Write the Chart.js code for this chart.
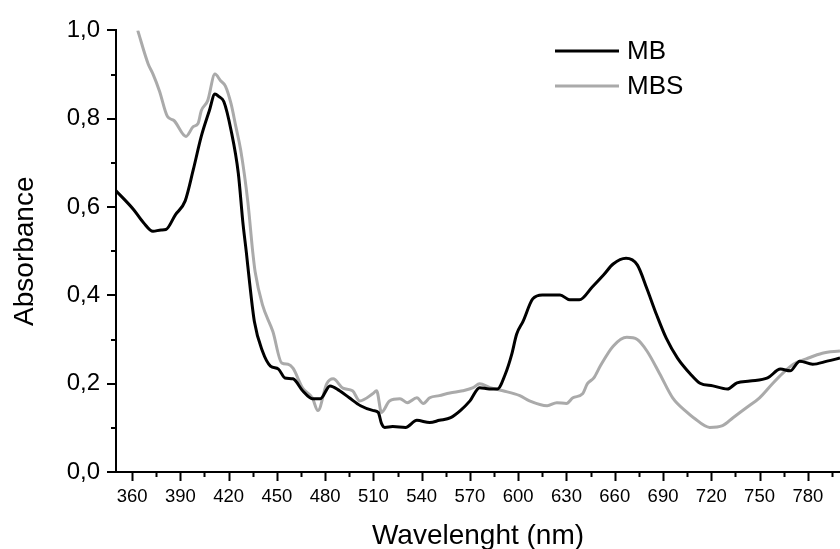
<!DOCTYPE html>
<html lang="en">
<head>
    <meta charset="UTF-8">
    <title>Absorbance spectra</title>
    <script src="https://cdn.jsdelivr.net/npm/chart.js"></script>
    <style>
        body { margin: 0; background: #fff; }
        #wrap { width: 840px; height: 549px; }
    </style>
</head>
<body>
    <div id="wrap"><canvas id="spectrum"></canvas></div>
    <script>
        // wavelength (nm) / absorbance
        const mbWavelength = [350, 361, 367, 373, 378, 381, 387, 393, 398, 403, 408, 411.5, 414, 417, 421.5, 426, 429, 431, 433, 436,
            441, 446, 451, 455, 460, 466, 472, 477, 483, 489, 495, 502, 510, 513, 515, 517, 522, 530, 537, 545,
            551, 558, 564, 570, 576, 582, 587, 592, 596, 599, 603, 609, 615, 626, 632, 638, 646, 653, 659, 667,
            674, 680, 686, 692, 699, 707, 713, 721, 730, 736, 744, 755, 763, 769, 775, 783, 792, 800];
        const mbAbsorbance = [0.637, 0.594, 0.565, 0.545, 0.548, 0.549, 0.583, 0.614, 0.684, 0.760, 0.818, 0.856, 0.850, 0.839, 0.774, 0.677, 0.560, 0.498, 0.430, 0.341,
            0.274, 0.240, 0.233, 0.213, 0.211, 0.184, 0.166, 0.166, 0.195, 0.184, 0.168, 0.150, 0.139, 0.135, 0.110, 0.101, 0.103, 0.101, 0.117, 0.112,
            0.117, 0.123, 0.139, 0.161, 0.191, 0.188, 0.188, 0.222, 0.267, 0.312, 0.341, 0.392, 0.401, 0.401, 0.390, 0.390, 0.419, 0.446, 0.471, 0.484,
            0.469, 0.415, 0.356, 0.303, 0.258, 0.222, 0.201, 0.195, 0.188, 0.202, 0.206, 0.213, 0.233, 0.229, 0.251, 0.244, 0.251, 0.258];

        const mbsWavelength = [363.5, 370, 373, 377, 382, 386, 393.5, 398, 401, 403, 407, 411.5, 415, 418, 421.5, 424.5, 427.5, 432, 435, 436.5,
            441, 447.5, 453, 457, 460, 466, 472, 475.5, 481, 485, 491, 497, 501.5, 509.5, 512, 515, 520, 526.5, 531, 537,
            541, 545, 551, 557.5, 565.5, 572, 576, 582.5, 590.5, 601, 607, 618, 624, 630, 634, 640, 643, 647, 651, 659,
            667.5, 674, 680, 688, 696, 705, 709, 719, 727, 733.5, 742, 750, 758, 764.5, 771, 779, 789, 800];
        const mbsAbsorbance = [1.000, 0.924, 0.901, 0.863, 0.805, 0.796, 0.760, 0.782, 0.789, 0.818, 0.841, 0.901, 0.886, 0.874, 0.834, 0.782, 0.729, 0.610, 0.498, 0.453,
            0.379, 0.318, 0.247, 0.244, 0.235, 0.190, 0.168, 0.139, 0.200, 0.211, 0.190, 0.184, 0.161, 0.177, 0.184, 0.135, 0.161, 0.166, 0.157, 0.168,
            0.155, 0.168, 0.173, 0.179, 0.184, 0.191, 0.200, 0.191, 0.184, 0.173, 0.161, 0.150, 0.157, 0.155, 0.168, 0.177, 0.200, 0.213, 0.240, 0.285,
            0.305, 0.300, 0.274, 0.222, 0.168, 0.135, 0.123, 0.101, 0.105, 0.123, 0.146, 0.168, 0.200, 0.224, 0.244, 0.256, 0.269, 0.274];

        // tick positions (every other one labelled)
        const xTickValues = [360, 375, 390, 405, 420, 435, 450, 465, 480, 495, 510, 525, 540, 555, 570, 585, 600, 615, 630, 645,
            660, 675, 690, 705, 720, 735, 750, 765, 780, 795];
        const yTickValues = [0, 0.1, 0.2, 0.3, 0.4, 0.5, 0.6, 0.7, 0.8, 0.9, 1.0];

        const FONT = "'Liberation Sans', Arial, sans-serif";

        const toPoints = (xs, ys) => xs.map((x, i) => ({ x: x, y: ys[i] }));
        const isMajorX = v => v % 30 === 0;
        const isMajorY = v => Math.round(v * 10) % 2 === 0;

        // minor/major tick marks and the legend box
        const decorPlugin = {
            id: 'decor',
            afterDraw(chart) {
                const ctx = chart.ctx;
                const xs = chart.scales.x, ys = chart.scales.y;
                const area = chart.chartArea;
                ctx.save();
                ctx.strokeStyle = '#000';
                ctx.lineWidth = 2;
                ctx.beginPath();
                xTickValues.forEach(v => {
                    const px = Math.round(xs.getPixelForValue(v)) + 0.5;
                    ctx.moveTo(px, area.bottom);
                    ctx.lineTo(px, area.bottom + (isMajorX(v) ? 9 : 5));
                });
                yTickValues.forEach(v => {
                    const py = Math.round(ys.getPixelForValue(v));
                    ctx.moveTo(area.left, py);
                    ctx.lineTo(area.left - (isMajorY(v) ? 9 : 5), py);
                });
                ctx.stroke();

                // legend
                ctx.font = '26px ' + FONT;
                ctx.textBaseline = 'middle';
                ctx.textAlign = 'left';
                chart.data.datasets.forEach((ds, i) => {
                    const y = 51 + i * 35;
                    ctx.strokeStyle = ds.borderColor;
                    ctx.lineWidth = 3;
                    ctx.beginPath();
                    ctx.moveTo(555, y);
                    ctx.lineTo(619, y);
                    ctx.stroke();
                    ctx.fillStyle = '#000';
                    ctx.fillText(ds.label, 627, y + 1);
                });
                ctx.restore();
            }
        };

        new Chart(document.getElementById('spectrum'), {
            type: 'line',
            data: {
                datasets: [{
                    label: 'MB',
                    data: toPoints(mbWavelength, mbAbsorbance),
                    borderColor: '#000000',
                    borderWidth: 3,
                    pointRadius: 0,
                    cubicInterpolationMode: 'monotone',
                    fill: false,
                }, {
                    label: 'MBS',
                    data: toPoints(mbsWavelength, mbsAbsorbance),
                    borderColor: '#aaaaaa',
                    borderWidth: 3,
                    pointRadius: 0,
                    cubicInterpolationMode: 'monotone',
                    fill: false,
                }],
            },
            options: {
                responsive: true,
                maintainAspectRatio: false,
                animation: false,
                layout: {
                    padding: { top: 26, right: 0, left: 0, bottom: 0 },
                },
                plugins: {
                    legend: { display: false },
                    tooltip: { enabled: false },
                },
                scales: {
                    x: {
                        type: 'linear',
                        min: 350,
                        max: 800,
                        afterBuildTicks: s => { s.ticks = xTickValues.map(v => ({ value: v })); },
                        afterFit: s => { s.height = 77; s.paddingLeft = 0; s.paddingRight = 0; },
                        grid: { display: false, drawTicks: false },
                        border: { display: true, color: '#000', width: 2 },
                        ticks: {
                            autoSkip: false,
                            maxRotation: 0,
                            padding: 14,
                            color: '#000',
                            font: { size: 18.5, family: FONT },
                            callback: v => isMajorX(v) ? String(v) : '',
                        },
                        title: {
                            display: true,
                            text: 'Wavelenght (nm)',
                            color: '#000',
                            font: { size: 28, family: FONT, lineHeight: 1 },
                            padding: { top: 0, bottom: -1 },
                        },
                    },
                    y: {
                        min: 0,
                        max: 1.0,
                        afterBuildTicks: s => { s.ticks = yTickValues.map(v => ({ value: v })); },
                        afterFit: s => { s.width = 116; },
                        grid: { display: false, drawTicks: false },
                        border: { display: true, color: '#000', width: 2 },
                        ticks: {
                            padding: 16,
                            color: '#000',
                            font: { size: 24, family: FONT },
                            callback: v => isMajorY(v) ? v.toFixed(1).replace('.', ',') : '',
                        },
                        title: {
                            display: true,
                            text: 'Absorbance',
                            color: '#000',
                            font: { size: 28, family: FONT, lineHeight: 1 },
                            padding: { top: 11, bottom: 0 },
                        },
                    },
                },
            },
            plugins: [decorPlugin],
        });
    </script>
</body>
</html>
